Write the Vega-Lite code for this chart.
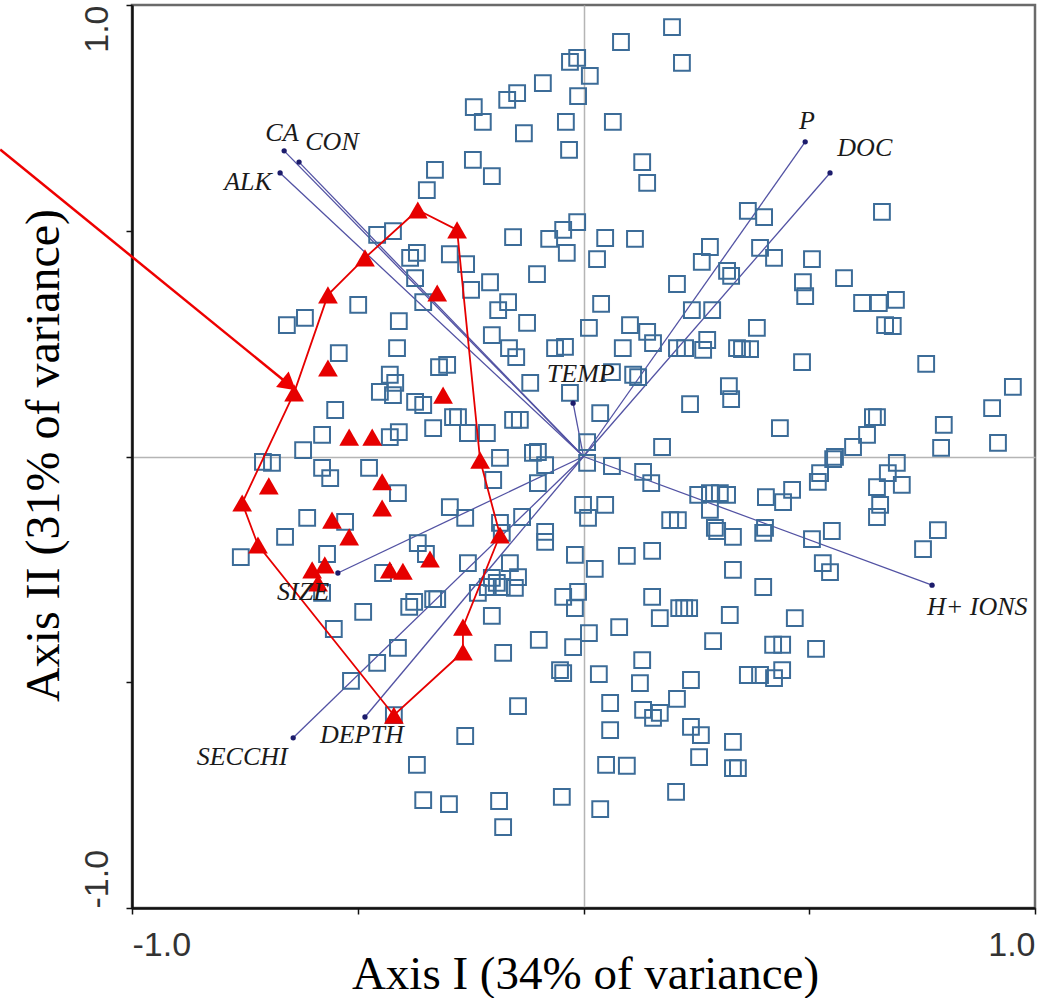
{
"$schema": "https://vega.github.io/schema/vega-lite/v6.json",
"width": 903, "height": 903,
"autosize": {"type": "none"},
"padding": {"left": 132, "top": 5, "right": 2, "bottom": 90},
"background": "white",
"config": {"view": {"stroke": "#6a6a6a", "strokeWidth": 2.5}},
"datasets": {
"squares": [
{"x":0.196,"y":0.951},{"x":0.218,"y":0.872},{"x":0.083,"y":0.918},{"x":-0.030,"y":0.874},{"x":-0.014,"y":0.883},{"x":0.014,"y":0.843},{"x":-0.012,"y":0.798},{"x":-0.090,"y":0.827},{"x":-0.147,"y":0.805},{"x":-0.169,"y":0.790},{"x":-0.243,"y":0.774},{"x":-0.223,"y":0.741},{"x":-0.132,"y":0.716},{"x":-0.039,"y":0.741},{"x":0.065,"y":0.741},{"x":-0.032,"y":0.679},{"x":-0.245,"y":0.657},{"x":-0.203,"y":0.621},{"x":-0.329,"y":0.635},{"x":-0.347,"y":0.590},{"x":0.130,"y":0.652},{"x":0.141,"y":0.606},{"x":-0.014,"y":0.519},{"x":-0.045,"y":0.502},{"x":-0.076,"y":0.482},{"x":-0.037,"y":0.451},{"x":-0.156,"y":0.486},{"x":0.048,"y":0.484},{"x":0.114,"y":0.482},{"x":0.030,"y":0.437},{"x":-0.103,"y":0.404},{"x":-0.296,"y":0.448},{"x":-0.260,"y":0.426},{"x":-0.207,"y":0.386},{"x":-0.249,"y":0.369},{"x":-0.167,"y":0.342},{"x":-0.189,"y":0.324},{"x":0.039,"y":0.338},{"x":0.207,"y":0.382},{"x":0.280,"y":0.464},{"x":0.262,"y":0.431},{"x":0.318,"y":0.411},{"x":0.327,"y":0.400},{"x":0.240,"y":0.324},{"x":0.285,"y":0.324},{"x":0.364,"y":0.544},{"x":0.400,"y":0.530},{"x":0.661,"y":0.542},{"x":0.391,"y":0.462},{"x":0.422,"y":0.440},{"x":0.506,"y":0.437},{"x":0.486,"y":0.386},{"x":0.491,"y":0.355},{"x":0.577,"y":0.395},{"x":0.617,"y":0.340},{"x":0.654,"y":0.340},{"x":0.692,"y":0.347},{"x":-0.457,"y":0.491},{"x":-0.422,"y":0.499},{"x":-0.384,"y":0.440},{"x":-0.369,"y":0.451},{"x":-0.373,"y":0.395},{"x":-0.355,"y":0.342},{"x":-0.499,"y":0.336},
{"x":-0.657,"y":0.291},{"x":-0.617,"y":0.307},{"x":-0.409,"y":0.300},{"x":-0.542,"y":0.229},{"x":-0.413,"y":0.240},{"x":-0.550,"y":0.103},{"x":-0.429,"y":0.181},{"x":-0.417,"y":0.163},{"x":-0.451,"y":0.143},{"x":-0.422,"y":0.136},{"x":-0.373,"y":0.121},{"x":-0.355,"y":0.114},{"x":-0.333,"y":0.063},{"x":-0.579,"y":0.048},{"x":-0.429,"y":0.043},{"x":-0.409,"y":0.054},{"x":-0.621,"y":0.014},{"x":-0.710,"y":-0.012},{"x":-0.690,"y":-0.014},{"x":-0.579,"y":-0.025},{"x":-0.561,"y":-0.048},{"x":-0.475,"y":-0.025},{"x":-0.411,"y":-0.081},{"x":-0.612,"y":-0.136},{"x":-0.528,"y":-0.145},{"x":-0.661,"y":-0.178},{"x":-0.759,"y":-0.223},{"x":-0.568,"y":-0.216},{"x":-0.367,"y":-0.192},{"x":-0.349,"y":-0.216},{"x":-0.444,"y":-0.258},{"x":-0.579,"y":-0.302},{"x":-0.488,"y":-0.344},{"x":-0.386,"y":-0.333},{"x":-0.375,"y":-0.322},{"x":-0.333,"y":-0.316},{"x":-0.320,"y":0.198},
{"x":-0.125,"y":0.296},{"x":0.012,"y":0.285},{"x":0.103,"y":0.291},{"x":0.141,"y":0.276},{"x":-0.203,"y":0.269},{"x":-0.165,"y":0.240},{"x":-0.149,"y":0.220},{"x":-0.063,"y":0.240},{"x":-0.041,"y":0.243},{"x":0.087,"y":0.240},{"x":0.154,"y":0.251},{"x":0.207,"y":0.240},{"x":0.225,"y":0.240},{"x":0.274,"y":0.258},{"x":0.265,"y":0.236},{"x":0.340,"y":0.240},{"x":-0.302,"y":0.203},{"x":0.063,"y":0.187},{"x":0.110,"y":0.181},{"x":0.121,"y":0.176},{"x":-0.118,"y":0.163},{"x":-0.030,"y":0.141},{"x":0.037,"y":0.096},{"x":0.236,"y":0.116},{"x":0.322,"y":0.156},{"x":0.327,"y":0.127},{"x":-0.289,"y":0.087},{"x":-0.278,"y":0.087},{"x":-0.256,"y":0.052},{"x":-0.214,"y":0.052},{"x":-0.156,"y":0.081},{"x":-0.141,"y":0.081},{"x":0.008,"y":0.032},{"x":0.174,"y":0.021},{"x":-0.185,"y":-0.003},{"x":-0.112,"y":0.008},{"x":-0.101,"y":0.010},{"x":-0.085,"y":-0.019},{"x":0.008,"y":-0.014},{"x":0.063,"y":-0.021},{"x":0.132,"y":-0.034},{"x":0.150,"y":-0.059},{"x":-0.200,"y":-0.052},{"x":-0.101,"y":-0.059},{"x":0.254,"y":-0.085},{"x":0.280,"y":-0.081},{"x":0.302,"y":-0.081},{"x":0.318,"y":-0.085},{"x":0.280,"y":-0.118},{"x":-0.296,"y":-0.112},{"x":-0.262,"y":-0.136},{"x":-0.136,"y":-0.134},{"x":-0.001,"y":-0.107},{"x":0.048,"y":-0.107},{"x":0.010,"y":-0.136},{"x":-0.185,"y":-0.147},{"x":-0.181,"y":-0.169},{"x":-0.085,"y":-0.167},{"x":-0.085,"y":-0.189},{"x":0.192,"y":-0.141},{"x":0.209,"y":-0.141},{"x":0.291,"y":-0.158},{"x":0.296,"y":-0.165},{"x":0.331,"y":-0.178},{"x":-0.256,"y":-0.236},{"x":-0.163,"y":-0.236},{"x":-0.145,"y":-0.267},{"x":-0.019,"y":-0.218},{"x":0.025,"y":-0.249},{"x":0.096,"y":-0.220},{"x":0.152,"y":-0.209},{"x":0.331,"y":-0.251},{"x":-0.203,"y":-0.269},{"x":-0.192,"y":-0.280},{"x":-0.212,"y":-0.289},{"x":-0.181,"y":-0.289},{"x":-0.152,"y":-0.291},{"x":-0.234,"y":-0.302},{"x":-0.324,"y":-0.316},{"x":-0.045,"y":-0.311},{"x":-0.012,"y":-0.300},{"x":-0.019,"y":-0.336},{"x":0.152,"y":-0.311},
{"x":0.384,"y":0.285},{"x":0.668,"y":0.291},{"x":0.685,"y":0.289},{"x":0.351,"y":0.238},{"x":0.369,"y":0.238},{"x":0.484,"y":0.209},{"x":0.759,"y":0.205},{"x":0.951,"y":0.154},{"x":0.905,"y":0.107},{"x":0.435,"y":0.063},{"x":0.650,"y":0.087},{"x":0.641,"y":0.087},{"x":0.628,"y":0.048},{"x":0.798,"y":0.070},{"x":0.918,"y":0.030},{"x":0.792,"y":0.019},{"x":0.597,"y":0.021},{"x":0.557,"y":-0.001},{"x":0.553,"y":-0.006},{"x":0.524,"y":-0.037},{"x":0.519,"y":-0.056},{"x":0.694,"y":-0.014},{"x":0.674,"y":-0.037},{"x":0.705,"y":-0.063},{"x":0.650,"y":-0.068},{"x":0.404,"y":-0.090},{"x":0.462,"y":-0.074},{"x":0.442,"y":-0.101},{"x":0.657,"y":-0.107},{"x":0.650,"y":-0.134},{"x":0.785,"y":-0.163},{"x":0.752,"y":-0.205},{"x":0.550,"y":-0.165},{"x":0.506,"y":-0.183},{"x":0.402,"y":-0.158},{"x":0.398,"y":-0.169},{"x":0.530,"y":-0.236},{"x":0.546,"y":-0.256},{"x":0.398,"y":-0.289},
{"x":0.468,"y":-0.358},{"x":0.420,"y":-0.417},{"x":0.440,"y":-0.417},{"x":0.515,"y":-0.426},{"x":0.364,"y":-0.484},{"x":0.391,"y":-0.484},{"x":0.422,"y":-0.491},{"x":0.440,"y":-0.473},{"x":0.331,"y":-0.632},{"x":0.342,"y":-0.690},{"x":0.331,"y":-0.690},
{"x":-0.203,"y":-0.353},{"x":0.169,"y":-0.358},{"x":0.212,"y":-0.336},{"x":0.223,"y":-0.336},{"x":0.234,"y":-0.336},{"x":0.324,"y":-0.351},{"x":-0.178,"y":-0.435},{"x":-0.099,"y":-0.406},{"x":0.012,"y":-0.391},{"x":-0.023,"y":-0.422},{"x":0.079,"y":-0.378},{"x":0.287,"y":-0.409},{"x":-0.052,"y":-0.473},{"x":-0.045,"y":-0.480},{"x":0.034,"y":-0.482},{"x":0.130,"y":-0.451},{"x":0.125,"y":-0.502},{"x":0.238,"y":-0.495},{"x":0.207,"y":-0.537},{"x":0.059,"y":-0.546},{"x":0.132,"y":-0.561},{"x":0.154,"y":-0.579},{"x":0.169,"y":-0.568},{"x":-0.145,"y":-0.553},{"x":-0.262,"y":-0.619},{"x":0.059,"y":-0.606},{"x":0.238,"y":-0.599},{"x":0.260,"y":-0.617},{"x":0.256,"y":-0.666},{"x":0.050,"y":-0.683},{"x":0.096,"y":-0.685},{"x":0.205,"y":-0.743},{"x":-0.298,"y":-0.770},{"x":-0.187,"y":-0.763},{"x":-0.048,"y":-0.754},{"x":0.037,"y":-0.781},{"x":-0.178,"y":-0.821},{"x":-0.553,"y":-0.382},{"x":-0.411,"y":-0.424},{"x":-0.457,"y":-0.457},{"x":-0.515,"y":-0.497},{"x":-0.369,"y":-0.683},{"x":-0.355,"y":-0.761},{"x":-0.420,"y":-0.573}
],
"triangles": [
{"x":-0.367,"y":0.546},{"x":-0.280,"y":0.502},{"x":-0.484,"y":0.440},{"x":-0.324,"y":0.362},{"x":-0.566,"y":0.358},{"x":-0.641,"y":0.141},{"x":-0.566,"y":0.196},{"x":-0.311,"y":0.136},{"x":-0.519,"y":0.043},{"x":-0.468,"y":0.043},{"x":-0.229,"y":-0.008},{"x":-0.697,"y":-0.065},{"x":-0.446,"y":-0.056},{"x":-0.446,"y":-0.114},{"x":-0.756,"y":-0.103},{"x":-0.557,"y":-0.141},{"x":-0.519,"y":-0.178},{"x":-0.185,"y":-0.174},{"x":-0.721,"y":-0.196},{"x":-0.573,"y":-0.240},{"x":-0.601,"y":-0.251},{"x":-0.588,"y":-0.280},{"x":-0.340,"y":-0.227},{"x":-0.429,"y":-0.251},{"x":-0.400,"y":-0.254},{"x":-0.267,"y":-0.378},{"x":-0.267,"y":-0.433},{"x":-0.420,"y":-0.573}
],
"hull": [
{"ord":1,"x":-0.367,"y":0.546},{"ord":2,"x":-0.280,"y":0.502},{"ord":3,"x":-0.229,"y":-0.008},{"ord":4,"x":-0.185,"y":-0.174},{"ord":5,"x":-0.267,"y":-0.378},{"ord":6,"x":-0.267,"y":-0.433},{"ord":7,"x":-0.420,"y":-0.573},{"ord":8,"x":-0.721,"y":-0.196},{"ord":9,"x":-0.756,"y":-0.103},{"ord":10,"x":-0.641,"y":0.141},{"ord":11,"x":-0.566,"y":0.358},{"ord":12,"x":-0.484,"y":0.440},{"ord":13,"x":-0.367,"y":0.546}
],
"env": [
{"name":"CA","x":-0.663,"y":0.677,"lx":-0.668,"ly":0.716},
{"name":"CON","x":-0.630,"y":0.652,"lx":-0.557,"ly":0.697},
{"name":"ALK","x":-0.672,"y":0.628,"lx":-0.743,"ly":0.608},
{"name":"P","x":0.491,"y":0.697,"lx":0.495,"ly":0.743},
{"name":"DOC","x":0.546,"y":0.628,"lx":0.623,"ly":0.683},
{"name":"TEMP","x":-0.023,"y":0.118,"lx":-0.006,"ly":0.183},
{"name":"H+ IONS","x":0.772,"y":-0.285,"lx":0.872,"ly":-0.333},
{"name":"SIZE","x":-0.544,"y":-0.258,"lx":-0.621,"ly":-0.300},
{"name":"SECCHI","x":-0.643,"y":-0.623,"lx":-0.756,"ly":-0.666},
{"name":"DEPTH","x":-0.484,"y":-0.577,"lx":-0.491,"ly":-0.617}
],
"pointer": [
{"ord":1,"x":-1.292,"y":0.680},{"ord":2,"x":-0.652,"y":0.159}
]
},
"layer": [
{
"data": {"name": "env"},
"mark": {"type": "rule", "color": "#5252a3", "strokeWidth": 1.3},
"encoding": {
"x": {"field": "x", "type": "quantitative", "scale": {"domain": [-1, 1], "nice": false, "zero": false}, "title": "Axis I (34% of variance)",
"axis": {"values": [-1, -0.5, 0, 0.5, 1], "labelExpr": "datum.value == 1 ? '1.0' : (datum.value == -1 ? '-1.0' : '')", "labelAlign": {"condition": {"test": "datum.value < 0", "value": "left"}, "value": "right"}, "labelBaseline": "alphabetic", "labelPadding": 41, "labelFont": "Liberation Sans", "labelFontSize": 34, "labelColor": "#333333", "labelOverlap": false, "labelBound": false, "tickSize": 6, "tickWidth": 1.5, "tickColor": "#111111", "domainColor": "#111111", "domainWidth": 2.5, "grid": true, "gridColor": {"condition": {"test": "datum.value == 0", "value": "#b5b5b5"}, "value": "rgba(0,0,0,0)"}, "gridWidth": 1.5, "titleFont": "Liberation Serif", "titleFontSize": 47, "titleFontWeight": "normal", "titleColor": "#000000", "titleX": 453, "titleY": 80, "titleAlign": "center", "titleBaseline": "alphabetic"}},
"y": {"field": "y", "type": "quantitative", "scale": {"domain": [-1, 1], "nice": false, "zero": false}, "title": "Axis II (31% of variance)",
"axis": {"values": [-1, -0.5, 0, 0.5, 1], "labelExpr": "datum.value == 1 ? '1.0' : (datum.value == -1 ? '-1.0' : '')", "labelAngle": -90, "labelAlign": {"condition": {"test": "datum.value > 0", "value": "right"}, "value": "left"}, "labelBaseline": "alphabetic", "labelPadding": 19, "labelFont": "Liberation Sans", "labelFontSize": 34, "labelColor": "#333333", "labelOverlap": false, "labelBound": false, "tickSize": 6, "tickWidth": 1.5, "tickColor": "#111111", "domainColor": "#111111", "domainWidth": 2.5, "grid": true, "gridColor": {"condition": {"test": "datum.value == 0", "value": "#b5b5b5"}, "value": "rgba(0,0,0,0)"}, "gridWidth": 1.5, "titleFont": "Liberation Serif", "titleFontSize": 48, "titleFontWeight": "normal", "titleColor": "#000000", "titleAngle": -90, "titleX": -74, "titleY": 450, "titleAlign": "center", "titleBaseline": "alphabetic"}},
"x2": {"datum": 0},
"y2": {"datum": 0}
}
},
{
"data": {"name": "squares"},
"mark": {"type": "point", "shape": "square", "filled": false, "size": 250, "strokeWidth": 2, "color": "#3c6c98", "opacity": 1},
"encoding": {
"x": {"field": "x", "type": "quantitative", "title": "Axis I (34% of variance)"},
"y": {"field": "y", "type": "quantitative", "title": "Axis II (31% of variance)"}
}
},
{
"data": {"name": "hull"},
"mark": {"type": "line", "color": "#e60000", "strokeWidth": 1.8},
"encoding": {
"x": {"field": "x", "type": "quantitative", "title": "Axis I (34% of variance)"},
"y": {"field": "y", "type": "quantitative", "title": "Axis II (31% of variance)"},
"order": {"field": "ord"}
}
},
{
"data": {"name": "triangles"},
"mark": {"type": "point", "shape": "triangle-up", "filled": true, "size": 390, "color": "#e60000", "opacity": 1},
"encoding": {
"x": {"field": "x", "type": "quantitative", "title": "Axis I (34% of variance)"},
"y": {"field": "y", "type": "quantitative", "title": "Axis II (31% of variance)"}
}
},
{
"data": {"name": "env"},
"mark": {"type": "point", "shape": "circle", "filled": true, "size": 28, "color": "#1c1c6c", "opacity": 1},
"encoding": {
"x": {"field": "x", "type": "quantitative", "title": "Axis I (34% of variance)"},
"y": {"field": "y", "type": "quantitative", "title": "Axis II (31% of variance)"}
}
},
{
"data": {"name": "env"},
"mark": {"type": "text", "font": "Liberation Serif", "fontStyle": "italic", "fontSize": 26, "color": "#1a1a1a", "align": "center", "baseline": "middle"},
"encoding": {
"x": {"field": "lx", "type": "quantitative", "title": "Axis I (34% of variance)"},
"y": {"field": "ly", "type": "quantitative", "title": "Axis II (31% of variance)"},
"text": {"field": "name"}
}
},
{
"data": {"name": "pointer"},
"mark": {"type": "line", "color": "#ee0000", "strokeWidth": 2.5},
"encoding": {
"x": {"field": "x", "type": "quantitative", "title": "Axis I (34% of variance)"},
"y": {"field": "y", "type": "quantitative", "title": "Axis II (31% of variance)"},
"order": {"field": "ord"}
}
},
{
"data": {"values": [{"x": -0.652, "y": 0.159}]},
"mark": {"type": "point", "shape": "triangle-right", "filled": true, "size": 400, "angle": 39, "color": "#ee0000", "opacity": 1},
"encoding": {
"x": {"field": "x", "type": "quantitative", "title": "Axis I (34% of variance)"},
"y": {"field": "y", "type": "quantitative", "title": "Axis II (31% of variance)"}
}
}
]
}
